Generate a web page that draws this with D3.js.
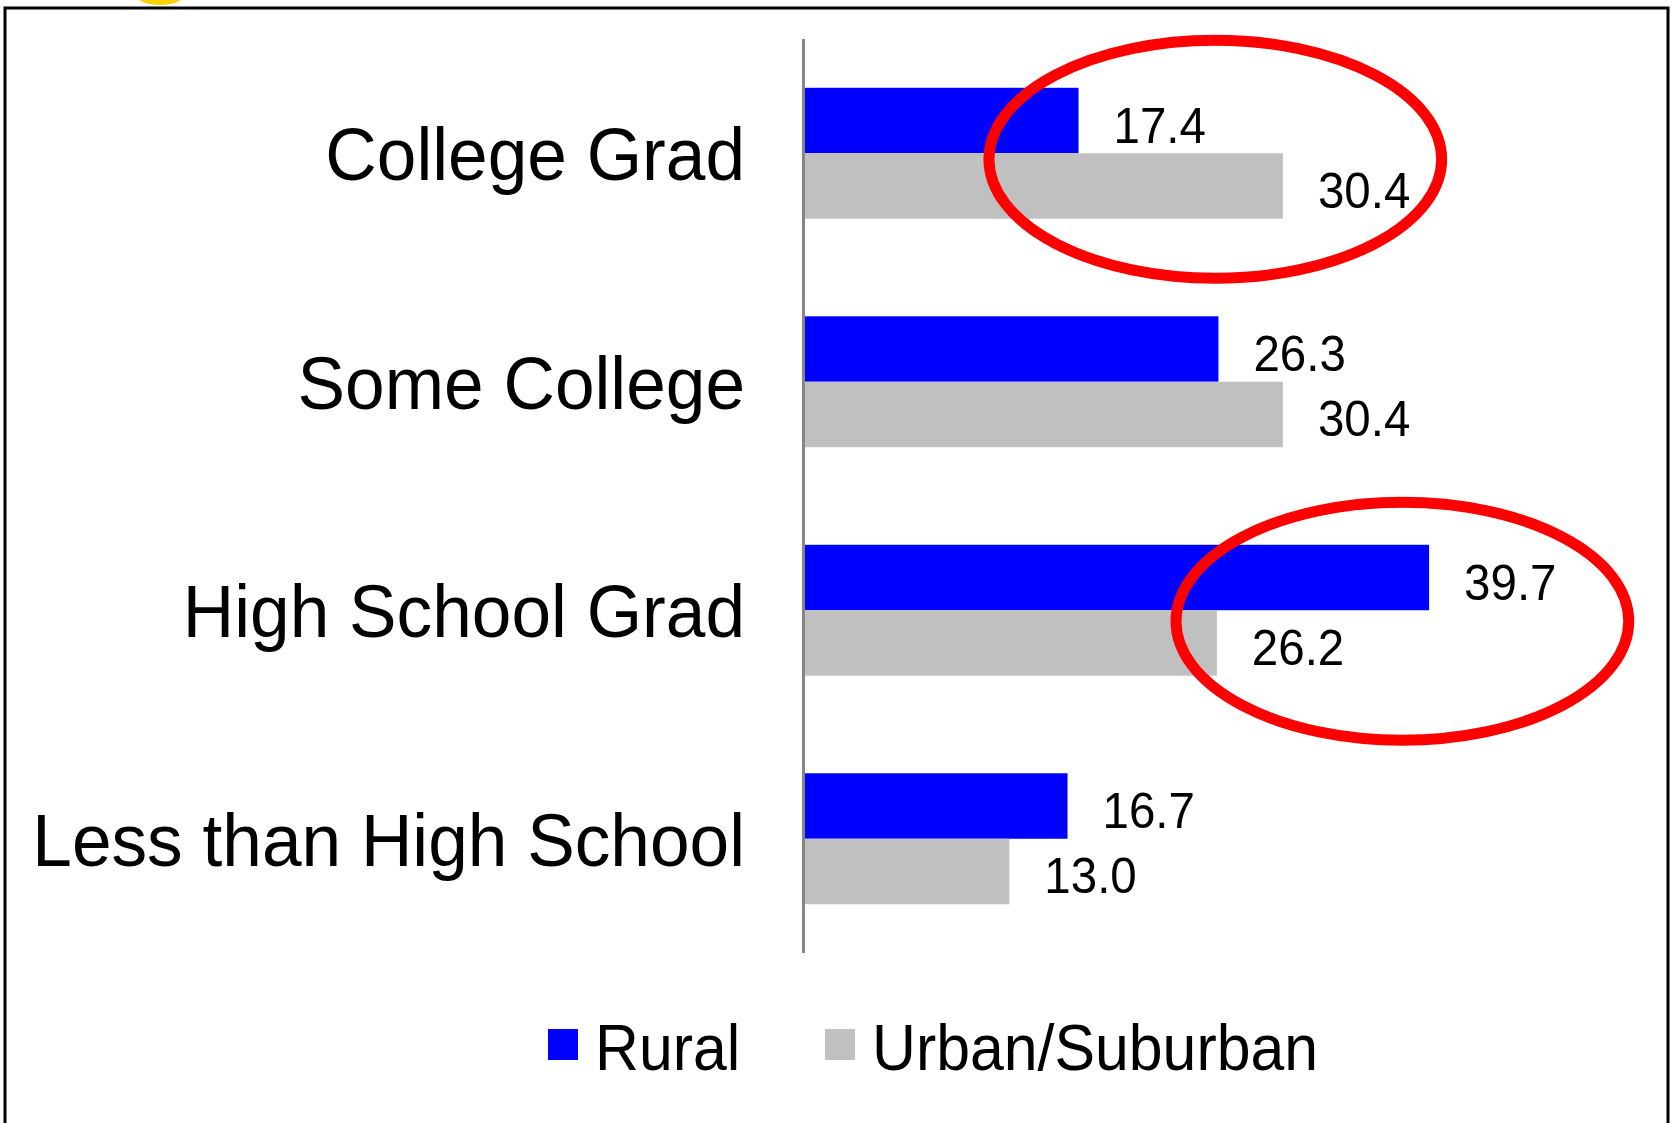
<!DOCTYPE html>
<html>
<head>
<meta charset="utf-8">
<script src="https://cdn.jsdelivr.net/npm/d3@7"></script>
<style>
  html, body { margin:0; padding:0; background:#fff; }
  svg { display:block; font-family:"Liberation Sans", Arial, sans-serif; }
</style>
</head>
<body>
<div id="chart"></div>
<script>
const categories = ["College Grad", "Some College", "High School Grad", "Less than High School"];
const seriesNames = ["Rural", "Urban/Suburban"];
const rural = [17.4, 26.3, 39.7, 16.7];
const urban = [30.4, 30.4, 26.2, 13.0];
const colors = ["#0000ff", "#c0c0c0"];
// highlighted groups: category, centre value, half width in value units
const highlights = [
  { cat: "College Grad", mid: 26.1, half: 14.4, dy: 6 },
  { cat: "High School Grad", mid: 38.0, half: 14.4, dy: 11 }
];

let width = 1676, height = 1123,
    squash = 0.95;   // text in the original is a bit narrow

let svg = d3.select("#chart").append("svg")
    .attr("width", width).attr("height", height)
    .attr("viewBox", `0 0 ${width} ${height}`);

let xScale = d3.scaleLinear().domain([0, 45]).range([805, 805 + 45 * 15.72]);
let yScale = d3.scaleBand().domain(categories).range([39, 953])
    .paddingInner(0.427).paddingOuter(0.2135);
let sub = d3.scaleBand().domain(seriesNames).range([0, yScale.bandwidth()]);

// little yellow thing peeking at the top, then the frame
svg.append("ellipse").attr("cx", 160).attr("cy", -5).attr("rx", 24).attr("ry", 10)
   .attr("fill", "#f9d100");
svg.append("rect").attr("x", 5).attr("y", 8).attr("width", 1663).attr("height", 1200)
   .attr("fill", "none").attr("stroke", "#000").attr("stroke-width", 3);

let rows = categories.map((c, i) => ({ cat: c, vals: [rural[i], urban[i]] }));

let groups = svg.selectAll("g.cat").data(rows).enter()
    .append("g").attr("class", "cat")
    .attr("transform", d => `translate(0,${yScale(d.cat)})`);

groups.selectAll("rect").data(d => d.vals.map((v, j) => ({ v, s: seriesNames[j], j })))
    .enter().append("rect")
    .attr("x", xScale(0))
    .attr("y", d => sub(d.s))
    .attr("width", d => xScale(d.v) - xScale(0))
    .attr("height", sub.bandwidth())
    .attr("fill", d => colors[d.j]);

groups.selectAll("text.val").data(d => d.vals.map((v, j) => ({ v, s: seriesNames[j] })))
    .enter().append("text").attr("class", "val")
    .attr("transform", d => `translate(${xScale(d.v) + 35},${sub(d.s) + sub.bandwidth() / 2 + 22}) scale(${squash},1)`)
    .attr("font-size", 50).attr("fill", "#000")
    .text(d => d.v.toFixed(1));

// category labels
svg.selectAll("text.cat").data(categories).enter()
    .append("text").attr("class", "cat")
    .attr("transform", d => `translate(745,${yScale(d) + yScale.bandwidth() / 2 + 27}) scale(${squash},1)`)
    .attr("text-anchor", "end").attr("font-size", 75).attr("fill", "#000")
    .text(d => d);

// vertical axis line
svg.append("line")
   .attr("x1", xScale(0) - 1.5).attr("x2", xScale(0) - 1.5)
   .attr("y1", yScale.range()[0]).attr("y2", yScale.range()[1])
   .attr("stroke", "#868686").attr("stroke-width", 3);

// red ellipses
svg.selectAll("ellipse.hl").data(highlights).enter()
    .append("ellipse").attr("class", "hl")
    .attr("cx", d => xScale(d.mid))
    .attr("cy", d => yScale(d.cat) + yScale.bandwidth() / 2 + d.dy)
    .attr("rx", d => xScale(d.half) - xScale(0))
    .attr("ry", 119)
    .attr("fill", "none").attr("stroke", "#ff0000").attr("stroke-width", 11);

// legend
let legendX = [548, 825];
let legend = svg.selectAll("g.leg").data(seriesNames).enter()
    .append("g").attr("class", "leg")
    .attr("transform", (d, i) => `translate(${legendX[i]},1029)`);
legend.append("rect").attr("width", 30).attr("height", 31)
    .attr("fill", (d, i) => colors[i]);
legend.append("text")
    .attr("transform", `translate(47,41) scale(${squash},1)`)
    .attr("font-size", 64).attr("fill", "#000")
    .text(d => d);
</script>
</body>
</html>
